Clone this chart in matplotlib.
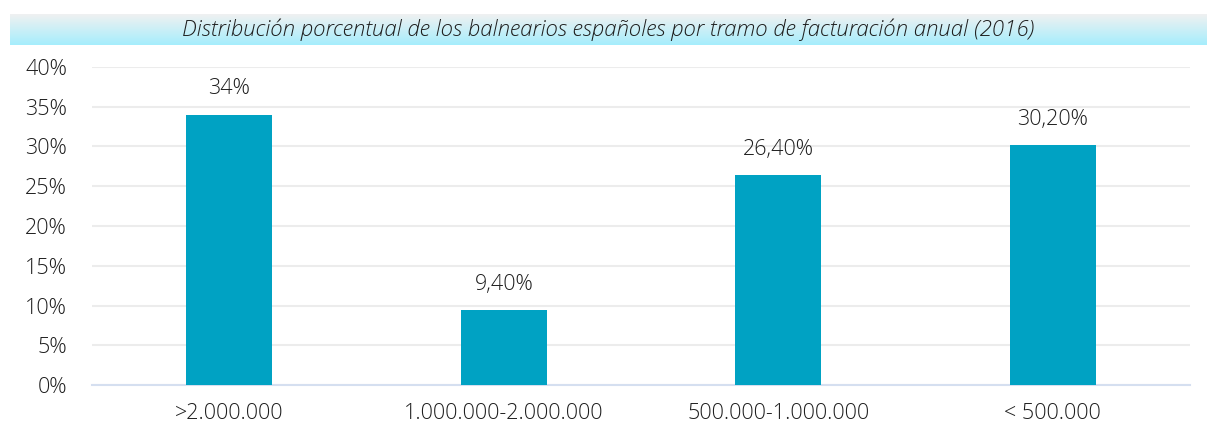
import numpy as np
import matplotlib.pyplot as plt

categories = ['>2.000.000', '1.000.000-2.000.000', '500.000-1.000.000', '< 500.000']
values = [34, 9.4, 26.4, 30.2]
value_labels = ['34%', '9,40%', '26,40%', '30,20%']
yticks = [0, 5, 10, 15, 20, 25, 30, 35, 40]
title = 'Distribución porcentual de los balnearios españoles por tramo de facturación anual (2016)'

plt.rcParams['font.family'] = ['Open Sans', 'DejaVu Sans']
plt.rcParams['font.weight'] = 'light'
text_color = '#1e1e1e'

fig = plt.figure(figsize=(12.09, 4.23), dpi=100)

# Title banner with vertical gradient
tax = fig.add_axes([10 / 1209, 1 - 45 / 423, 1197 / 1209, 31 / 423])
top = np.array([0.94, 0.945, 0.945])
bottom = np.array([0.65, 0.93, 0.99])
t = np.linspace(0, 1, 64)[:, None, None]
grad = top * (1 - t) + bottom * t
tax.imshow(grad, aspect='auto', extent=[0, 1, 0, 1])
tax.set_axis_off()
tax.text(0.5, 0.5, title, ha='center', va='center', fontsize=16,
         style='italic', color=text_color, transform=tax.transAxes)

# Bar chart
ax = fig.add_axes([92 / 1209, 1 - 385 / 423, 1098 / 1209, 318 / 423])
x = np.arange(len(categories))
ax.bar(x, values, width=0.313, color='#00A2C3', zorder=3)
for xi, v, lab in zip(x, values, value_labels):
    ax.annotate(lab, (xi, v), xytext=(0, 11), textcoords='offset points',
                ha='center', va='bottom', fontsize=15.5, color=text_color)

ax.set_xlim(-0.5, len(categories) - 0.5)
ax.set_ylim(0, 40)
ax.set_yticks(yticks)
ax.set_yticklabels([f'{v}%' for v in yticks], fontsize=15.5, color=text_color)
ax.set_xticks(x)
ax.set_xticklabels(categories, fontsize=15.5, color=text_color)
ax.tick_params(length=0)
ax.tick_params(axis='y', pad=18)
ax.tick_params(axis='x', pad=13)
ax.grid(axis='y', color='#ececec', linewidth=1.5, zorder=0)
for s in ['top', 'right', 'left']:
    ax.spines[s].set_visible(False)
ax.spines['bottom'].set_color('#d5dff0')
ax.spines['bottom'].set_linewidth(1.5)

fig.savefig('out.png', dpi=100)
